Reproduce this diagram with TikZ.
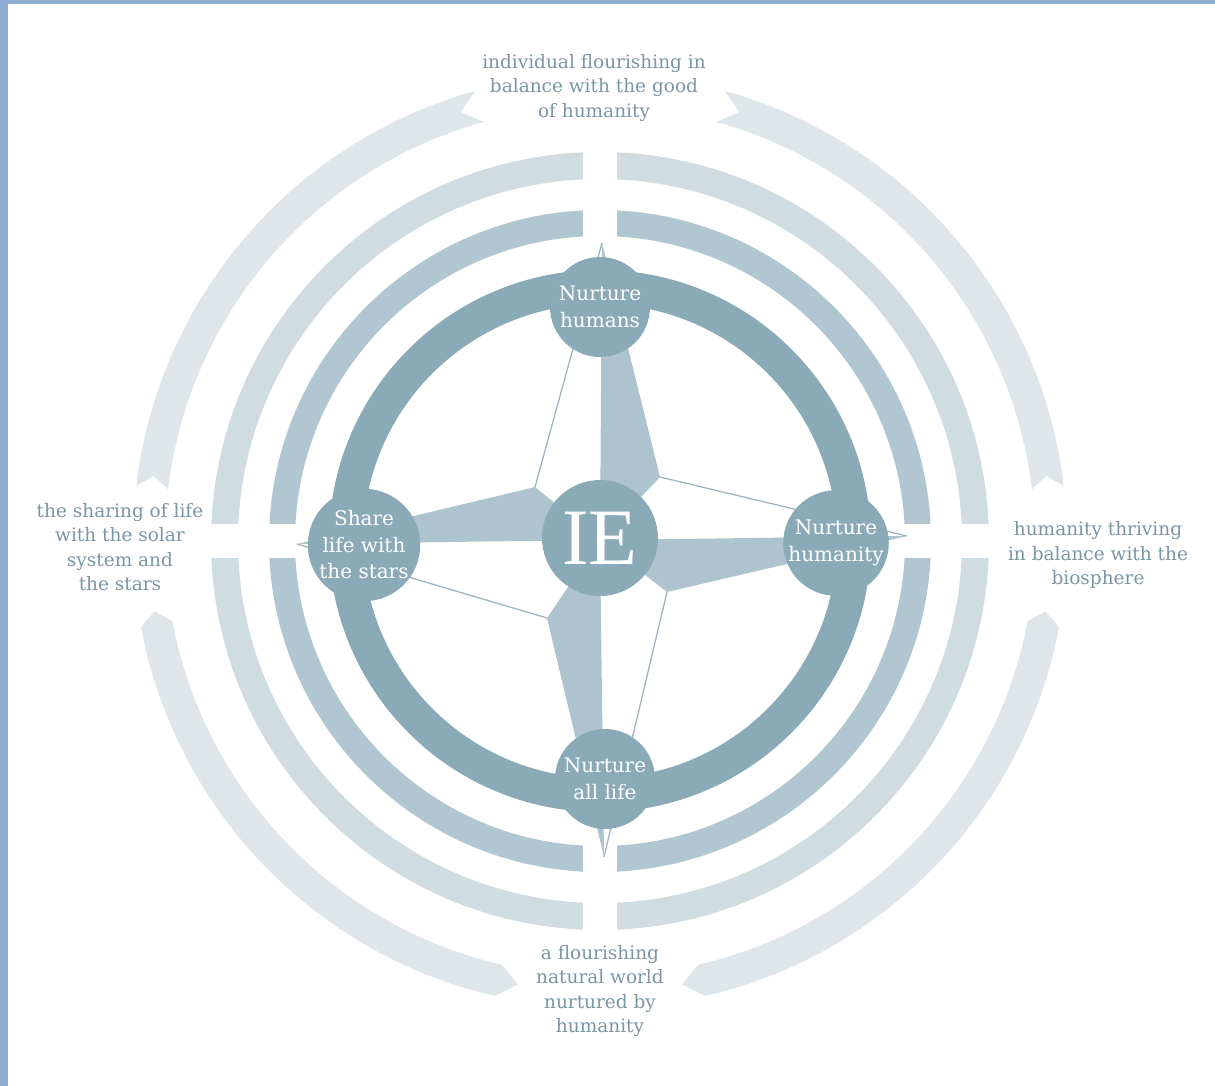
\documentclass[tikz,border=0pt]{standalone}
\usepackage{fontspec}
\setmainfont{DejaVu Serif}
\newfontfamily\iefont{Liberation Serif}

\definecolor{ringdark}{RGB}{139,170,184}
\definecolor{ringmid}{RGB}{176,198,208}
\definecolor{ringlight}{RGB}{207,220,226}
\definecolor{bandpale}{RGB}{223,230,233}
\definecolor{starfill}{RGB}{173,196,206}
\definecolor{starline}{RGB}{160,181,191}
\definecolor{labeltext}{RGB}{122,150,163}
\definecolor{pageedge}{RGB}{141,173,210}

\tikzset{
  goal/.style={circle, fill=ringdark, text=white, minimum size=100pt, inner sep=0pt,
    align=center, font=\fontsize{20}{26.5}\selectfont},
  outcome/.style={text=labeltext, align=center, font=\fontsize{18.5}{24.5}\selectfont},
  rayline/.style={draw=starline, line width=1.3pt},
}

\begin{document}
\begin{tikzpicture}[x=1pt,y=1pt]
  \useasboundingbox (0,0) rectangle (1215,-1086);
  % page edge
  \fill[pageedge] (0,0) rectangle (8,-1086);
  \fill[pageedge] (0,0) rectangle (1215,-4);

  \begin{scope}[shift={(600,-541)}]
    % outer arrows
    \fill[bandpale] (74.5:467) arc[start angle=74.5, end angle=6.8, radius=467] -- (8.3:451)
      -- (6.8:435) arc[start angle=6.8, end angle=74.5, radius=435] -- (72:451) -- cycle;
    \fill[bandpale] (105.5:467) arc[start angle=105.5, end angle=173.2, radius=467] -- (171.7:451)
      -- (173.2:435) arc[start angle=173.2, end angle=105.5, radius=435] -- (108:451) -- cycle;
    \fill[bandpale] (-10.6:467) arc[start angle=-10.6, end angle=-77, radius=467] -- (-79.5:451)
      -- (-77:435) arc[start angle=-77, end angle=-10.6, radius=435] -- (-9:451) -- cycle;
    \fill[bandpale] (190.6:467) arc[start angle=190.6, end angle=257, radius=467] -- (259.5:451)
      -- (257:435) arc[start angle=257, end angle=190.6, radius=435] -- (189:451) -- cycle;
    % rings
    \draw[ringlight, line width=27pt] (0,0) circle[radius=375.5];
    \draw[ringmid, line width=26pt] (0,0) circle[radius=318];
    \foreach \a in {0,90,180,270}
      \fill[white, rotate=\a] (298,-17) rectangle (400,17);
    \draw[ringdark, line width=34pt] (0,0) circle[radius=254];
  \end{scope}

  % compass
  \coordinate (c) at (600,-540);
  \coordinate (tipN) at (602,-243);
  \coordinate (tipE) at (907,-536);
  \coordinate (tipS) at (604,-857);
  \coordinate (tipW) at (297,-544);
  \coordinate (ne) at (660,-477);
  \coordinate (se) at (667,-592);
  \coordinate (sw) at (547,-618);
  \coordinate (nw) at (535,-487);
  \fill[starfill] (c) -- (ne) -- (tipN) -- cycle;
  \fill[starfill] (c) -- (se) -- (tipE) -- cycle;
  \fill[starfill] (c) -- (sw) -- (tipS) -- cycle;
  \fill[starfill] (c) -- (nw) -- (tipW) -- cycle;
  \draw[rayline] (nw) -- (tipN);
  \draw[rayline] (ne) -- (tipE);
  \draw[rayline] (se) -- (tipS);
  \draw[rayline] (sw) -- (tipW);

  \node[circle, fill=ringdark, minimum size=116pt, inner sep=0pt, text=white,
    font=\iefont\fontsize{80}{80}\selectfont] (ie) at (600,-538) {IE};
  \node[goal] (humans) at (600,-307) {Nurture\\humans};
  \node[goal] (humanity) at (836,-543) {Nurture\\humanity};
  \node[goal] (alllife) at (605,-779) {Nurture\\all life};
  \node[goal] (stars) at (364,-545) {Share\\life with\\the stars};

  \node[outcome] (goodself) at (594,-88) {individual flourishing in\\balance with the good\\of humanity};
  \node[outcome] (biosphere) at (1098,-555) {humanity thriving\\in balance with the\\biosphere};
  \node[outcome] (natural) at (600,-991) {a flourishing\\natural world\\nurtured by\\humanity};
  \node[outcome] (cosmos) at (120,-547) {the sharing of life\\with the solar\\system and\\the stars};
\end{tikzpicture}
\end{document}
